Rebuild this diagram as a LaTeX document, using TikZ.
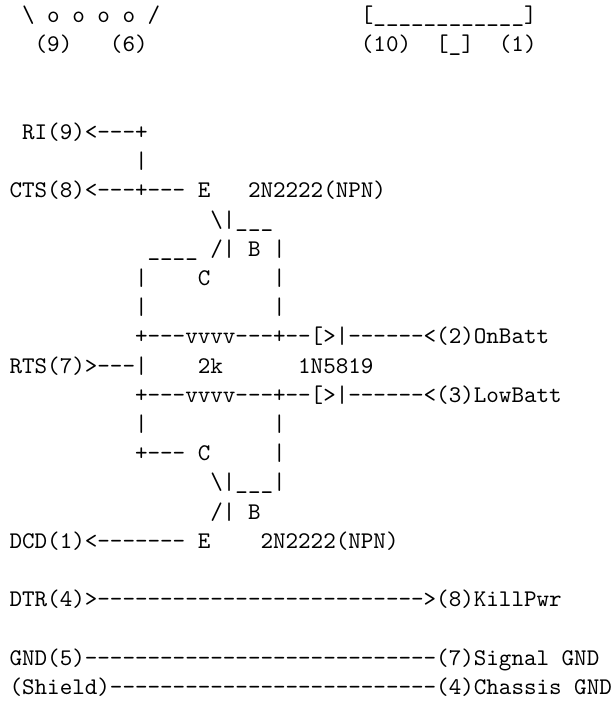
\documentclass[tikz,border=0pt]{standalone}
\begin{document}
\begin{tikzpicture}[x=1pt,y=1pt,
  asciiline/.style={anchor=base west,inner sep=0pt,outer sep=0pt,text=black,scale=2.39,
    font=\fontsize{10}{12}\selectfont\ttfamily}]
\def\B{\textbackslash}
\def\U{\_}
\useasboundingbox (0,0) rectangle (613,708);
\pgfmathsetmacro{\pitch}{29.2}
\pgfmathsetmacro{\basey}{22.8}
\node[asciiline] (r0a) at (9.6,{708-(\basey+0*\pitch)}) {~\B{} o o o o /};
\node[asciiline] (r0b) at (9.6,{708-(\basey+0*\pitch)}) {~~~~~~~~~~~~~~~~~~~~~~~~~~~~[\U\U\U\U\U\U\U\U\U\U\U\U]};
\node[asciiline] (r1) at (9.6,{708-(\basey+1*\pitch)}) {~~(9)~~~(6)~~~~~~~~~~~~~~~~~(10)~~[\U]~~(1)};
\node[asciiline] (r4) at (9.6,{708-(\basey+4*\pitch)}) {~RI(9)<---+};
\node[asciiline] (r5) at (9.6,{708-(\basey+5*\pitch)}) {~~~~~~~~~~|};
\node[asciiline] (r6) at (9.6,{708-(\basey+6*\pitch)}) {CTS(8)<---+---~E~~~2N2222(NPN)};
\node[asciiline] (r7) at (9.6,{708-(\basey+7*\pitch)}) {~~~~~~~~~~~~~~~~\B|\U\U\U};
\node[asciiline] (r8) at (9.6,{708-(\basey+8*\pitch)}) {~~~~~~~~~~~\U\U\U\U~/|~B~|};
\node[asciiline] (r9) at (9.6,{708-(\basey+9*\pitch)}) {~~~~~~~~~~|~~~~C~~~~~|};
\node[asciiline] (r10) at (9.6,{708-(\basey+10*\pitch)}) {~~~~~~~~~~|~~~~~~~~~~|};
\node[asciiline] (r11) at (9.6,{708-(\basey+11*\pitch)}) {~~~~~~~~~~+---vvvv---+--[>|------<(2)OnBatt};
\node[asciiline] (r12) at (9.6,{708-(\basey+12*\pitch)}) {RTS(7)>---|~~~~2k~~~~~~1N5819};
\node[asciiline] (r13) at (9.6,{708-(\basey+13*\pitch)}) {~~~~~~~~~~+---vvvv---+--[>|------<(3)LowBatt};
\node[asciiline] (r14) at (9.6,{708-(\basey+14*\pitch)}) {~~~~~~~~~~|~~~~~~~~~~|};
\node[asciiline] (r15) at (9.6,{708-(\basey+15*\pitch)}) {~~~~~~~~~~+---~C~~~~~|};
\node[asciiline] (r16) at (9.6,{708-(\basey+16*\pitch)}) {~~~~~~~~~~~~~~~~\B|\U\U\U|};
\node[asciiline] (r17) at (9.6,{708-(\basey+17*\pitch)}) {~~~~~~~~~~~~~~~~/|~B};
\node[asciiline] (r18) at (9.6,{708-(\basey+18*\pitch)}) {DCD(1)<-------~E~~~~2N2222(NPN)};
\node[asciiline] (r20) at (9.6,{708-(\basey+20*\pitch)}) {DTR(4)>-------------------------->(8)KillPwr};
\node[asciiline] (r22) at (9.6,{708-(\basey+22*\pitch)}) {GND(5)----------------------------(7)Signal~GND};
\node[asciiline] (r23) at (9.6,{708-(\basey+23*\pitch)}) {(Shield)--------------------------(4)Chassis~GND};
\end{tikzpicture}
\end{document}
